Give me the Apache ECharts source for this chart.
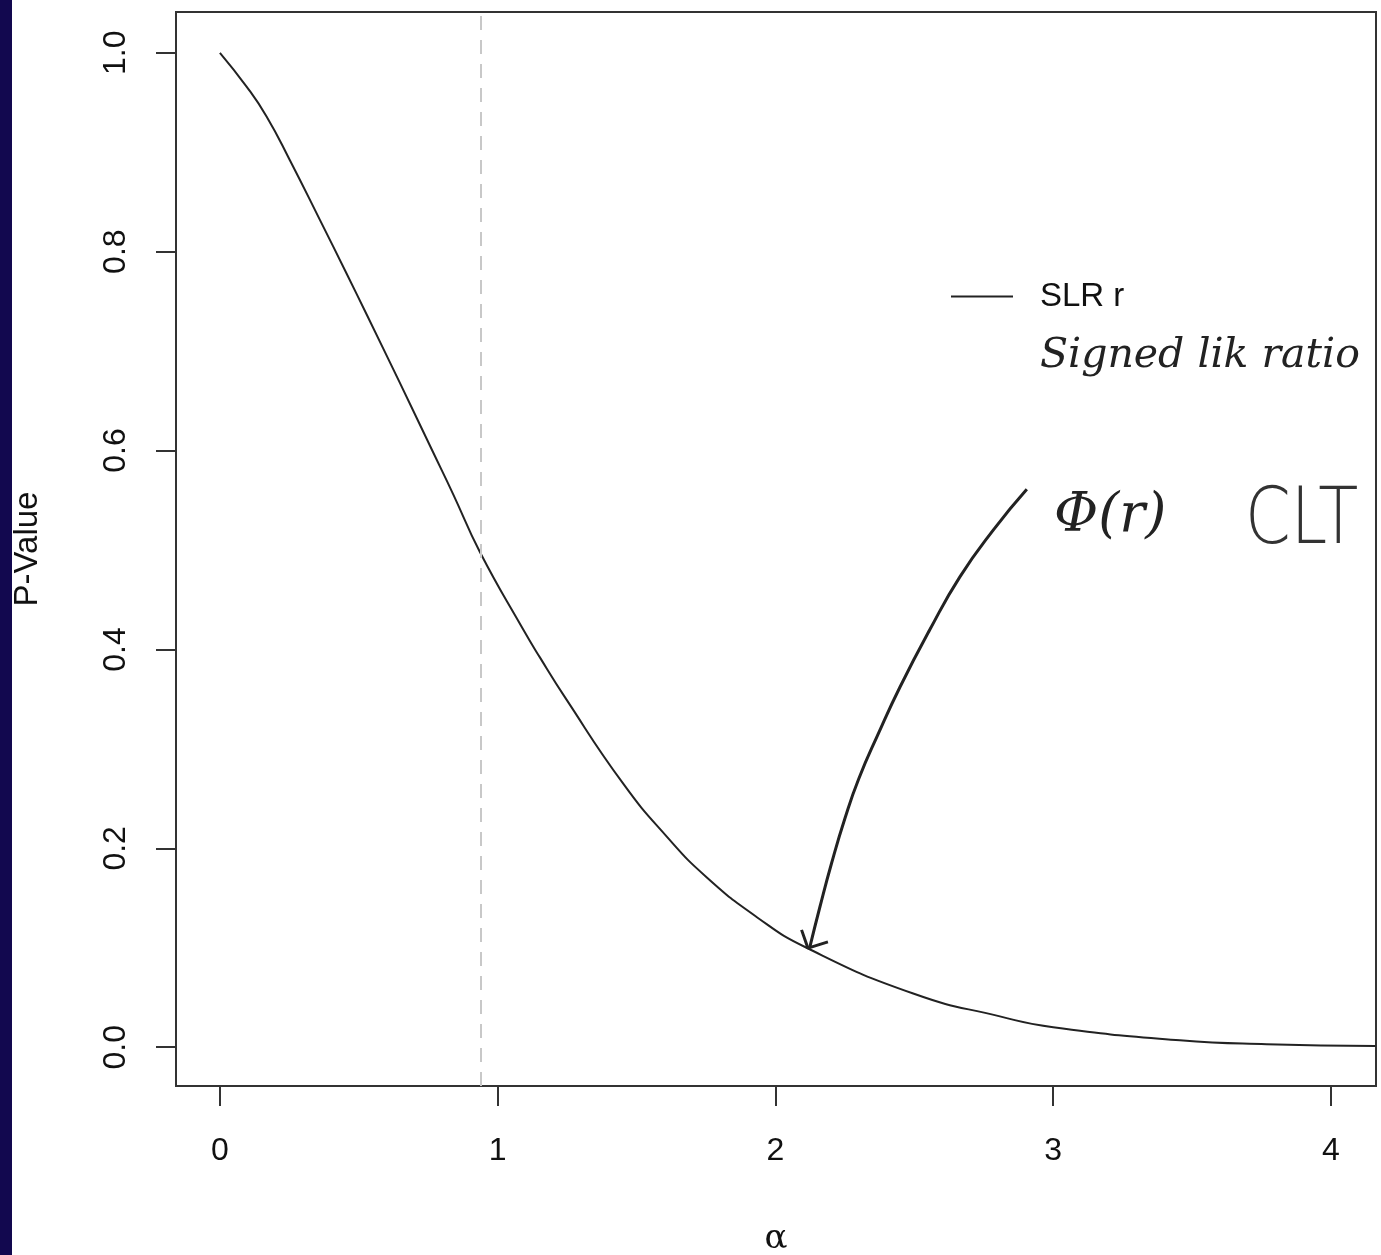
<!DOCTYPE html>
<html lang="en">
<head>
    <meta charset="UTF-8">
    <title>P-Value vs alpha</title>
    <script src="https://cdn.jsdelivr.net/npm/echarts@6/dist/echarts.min.js"></script>
    <style>
        html, body { margin: 0; padding: 0; background: #fff; }
        #main { width: 1381px; height: 1255px; }
    </style>
</head>
<body>
<div id="main"></div>
<script type="text/javascript">
    // curve: alpha -> p-value
    var alphaVals = [0, 0.096, 0.168, 0.252, 0.36, 0.456, 0.528, 0.648, 0.768, 0.84, 0.936,
        1.092, 1.152, 1.242, 1.452, 1.608, 1.752, 1.932, 2.112, 2.496, 2.808,
        3.0, 3.456, 3.768, 4.16];
    var pVals = [1.000, 0.966, 0.936, 0.892, 0.832, 0.778, 0.737, 0.668, 0.598, 0.556, 0.498,
        0.420, 0.392, 0.352, 0.265, 0.212, 0.171, 0.131, 0.100, 0.054, 0.031,
        0.020, 0.007, 0.003, 0.0013];

    // tick labels
    var xTicks = [0, 1, 2, 3, 4];
    var yTicks = [0, 0.2, 0.4, 0.6, 0.8, 1.0];

    // dashed reference line
    var refAlpha = 0.94;

    // hand drawn arrow (data coordinates)
    var arrowX = [2.905, 2.784, 2.664, 2.556, 2.448, 2.370, 2.300, 2.250, 2.202, 2.160, 2.124];
    var arrowY = [0.561, 0.520, 0.473, 0.420, 0.362, 0.315, 0.270, 0.230, 0.185, 0.141, 0.101];
    var headX = [2.094, 2.117, 2.189];
    var headY = [0.118, 0.0996, 0.106];

    function zip(a, b) {
        var out = [];
        for (var i = 0; i < a.length; i++) out.push([a[i], b[i]]);
        return out;
    }

    var myChart = echarts.init(document.getElementById('main'));
    var font = 'Liberation Sans, Arial, sans-serif';

    var option = {
        animation: false,
        backgroundColor: '#fff',
        grid: {
            left: 176, right: 5, top: 12, bottom: 169,
            outerBoundsMode: 'none',
            show: true, borderColor: '#333', borderWidth: 2, backgroundColor: 'transparent'
        },
        legend: {
            data: ['SLR r'],
            left: 946, top: 275,
            icon: 'rect', itemWidth: 62, itemHeight: 2,
            textStyle: { fontSize: 33, color: '#111', fontFamily: font, padding: [0, 0, 0, 22] }
        },
        xAxis: {
            type: 'value', min: -0.158, max: 4.162,
            axisLine: { show: false, onZero: false },
            splitLine: { show: false },
            axisTick: { show: true, length: 20, customValues: xTicks, lineStyle: { color: '#333', width: 2 } },
            axisLabel: { customValues: xTicks, margin: 49, fontSize: 32, color: '#111', fontFamily: font },
            name: 'α', nameLocation: 'middle', nameGap: 136,
            nameTextStyle: { fontSize: 34, color: '#111', fontFamily: 'DejaVu Serif, serif' }
        },
        yAxis: {
            type: 'value', min: -0.039, max: 1.041,
            axisLine: { show: false, onZero: false },
            splitLine: { show: false },
            axisTick: { show: true, length: 20, customValues: yTicks, lineStyle: { color: '#333', width: 2 } },
            axisLabel: {
                customValues: yTicks, margin: 44, rotate: 90, fontSize: 32, color: '#111', fontFamily: font,
                formatter: function (v) { return v.toFixed(1); }
            },
            name: 'P-Value', nameLocation: 'middle', nameGap: 132, nameRotate: 90,
            nameTextStyle: { fontSize: 33, color: '#111', fontFamily: font }
        },
        graphic: [
            { type: 'rect', left: 0, top: 0, shape: { width: 12, height: 1255 }, style: { fill: '#12084f' } },
            {
                type: 'text', left: 1040, top: 336,
                style: { text: 'Signed lik ratio', font: 'italic 41px "DejaVu Serif", serif', fill: '#222' }
            },
            {
                type: 'text', left: 1054, top: 490,
                style: { text: 'Φ(r)', font: 'italic 54px "DejaVu Serif", serif', fill: '#222' }
            },
            {
                type: 'text', left: 1245, top: 484, scaleX: 0.84,
                style: { text: 'CLT', font: '200 78px "DejaVu Sans", sans-serif', fill: '#333' }
            }
        ],
        series: [
            {
                name: 'SLR r',
                type: 'line',
                smooth: 0.5,
                symbol: 'none',
                color: '#222',
                lineStyle: { color: '#222', width: 2 },
                data: zip(alphaVals, pVals),
                markLine: {
                    silent: true,
                    symbol: 'none',
                    label: { show: false },
                    lineStyle: { color: '#c8c8c8', type: [14, 10], width: 2 },
                    data: [{ xAxis: refAlpha }]
                }
            },
            {
                name: 'arrow',
                type: 'line',
                smooth: 0.5,
                symbol: 'none',
                silent: true,
                lineStyle: { color: '#222', width: 3 },
                data: zip(arrowX, arrowY)
            },
            {
                name: 'arrowhead',
                type: 'line',
                symbol: 'none',
                silent: true,
                lineStyle: { color: '#222', width: 3 },
                data: zip(headX, headY)
            }
        ]
    };
    myChart.setOption(option);
</script>
</body>
</html>
